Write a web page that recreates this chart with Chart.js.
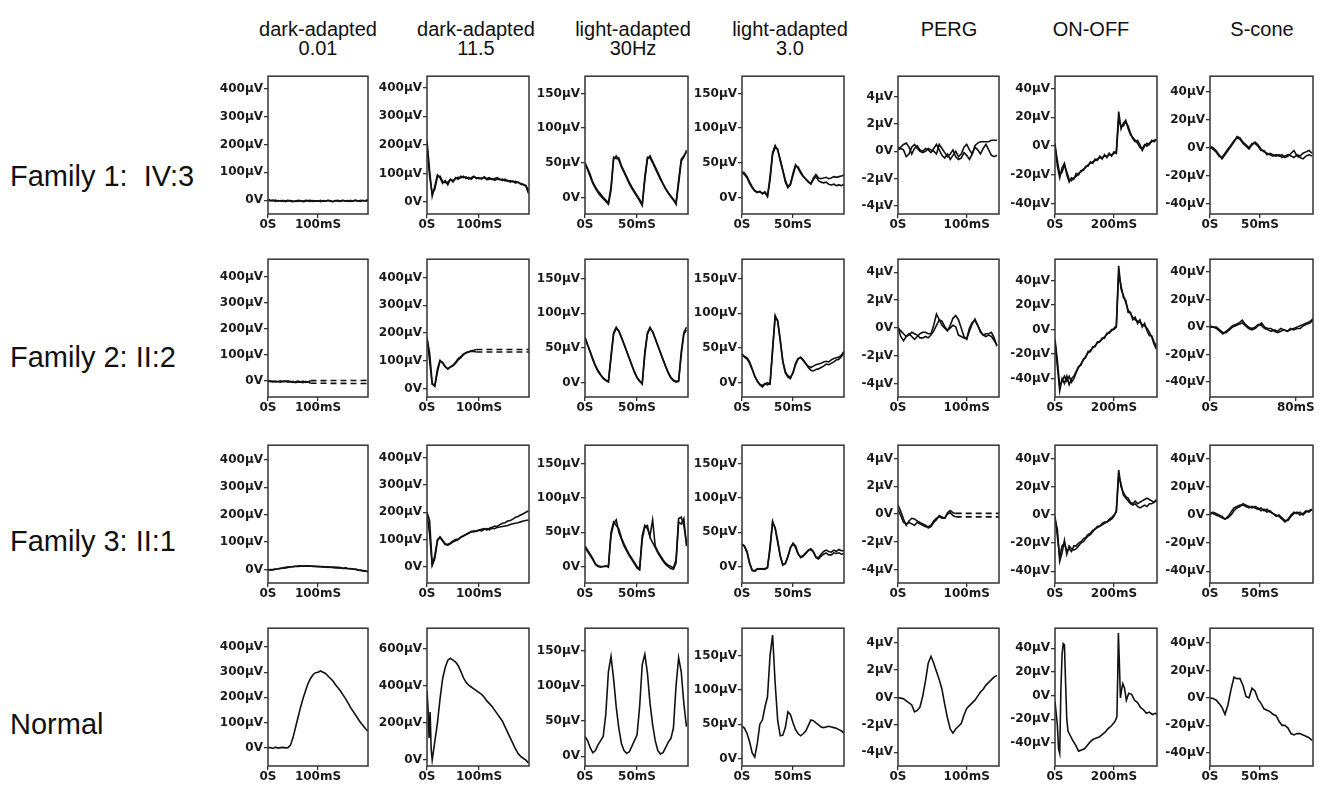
<!DOCTYPE html>
<html>
<head>
<meta charset="utf-8">
<script src="https://cdn.jsdelivr.net/npm/chart.js@4"></script>
<style>
  body { margin: 0; background: #fff; width: 1319px; height: 787px; position: relative; overflow: hidden;
         font-family: "Liberation Sans", Arial, sans-serif; color: #111; }
  .hdr { position: absolute; width: 170px; text-align: center; font-size: 20px; line-height: 19px; }
  .rowlbl { position: absolute; left: 10px; font-size: 29px; line-height: 30px; white-space: pre; }
  canvas { position: absolute; }
</style>
</head>
<body>
<div class="hdr" style="left:233px;top:20px">dark-adapted<br>0.01</div>
<div class="hdr" style="left:391px;top:20px">dark-adapted<br>11.5</div>
<div class="hdr" style="left:548px;top:20px">light-adapted<br>30Hz</div>
<div class="hdr" style="left:705px;top:20px">light-adapted<br>3.0</div>
<div class="hdr" style="left:864px;top:20px">PERG</div>
<div class="hdr" style="left:1006px;top:20px">ON-OFF</div>
<div class="hdr" style="left:1177px;top:20px">S-cone</div>
<div class="rowlbl" style="top:161px">Family 1:  IV:3</div>
<div class="rowlbl" style="top:342px">Family 2: II:2</div>
<div class="rowlbl" style="top:526px">Family 3: II:1</div>
<div class="rowlbl" style="top:709px">Normal</div>
<script>
// ---- sample times (ms) ----
const t_da = [0,5,10,15,20,25,30,35,40,45,50,55,60,65,70,75,80,85,90,95,100,105,110,115,120,125,130,135,140,145,150,155,160,165,170,175,180,185,190,195,200];
const t_da2 = [0,5,10,15,20,25,30,35,40,45,50,55,60,65,70,75,80,85,90,95,100,105,110,115,120,125,130,135,140,145,150,155,160,165,170,175,180,185,190,195];
const t_flk = [0,2.5,5,7.5,10,12.5,15,17.5,20,22.5,25,27.5,30,32.5,35,37.5,40,42.5,45,47.5,50,52.5,55,57.5,60,62.5,65,67.5,70,72.5,75,77.5,80,82.5,85,87.5,90,92.5,95,97.5];
const t_la = [0,2.5,5,7.5,10,12.5,15,17.5,20,22.5,25,27.5,30,32.5,35,37.5,40,42.5,45,47.5,50,52.5,55,57.5,60,62.5,65,67.5,70,72.5,75,77.5,80,82.5,85,87.5,90,92.5,95,97.5,100];
const t_perg = [0,4,8,12,16,20,24,28,32,36,40,44,48,52,56,60,64,68,72,76,80,84,88,92,96,100,104,108,112,116,120,124,128,132,136,140,144];
const t_oo = [0,8,16,24,32,40,48,56,64,72,80,88,96,104,112,120,128,136,144,152,160,168,176,184,192,200,208,216,224,232,240,248,256,264,272,280,288,296,304,312,320,328,336,344];
const t_sc = [0,3,6,9,12,15,18,21,24,27,30,33,36,39,42,45,48,51,54,57,60,63,66,69,72,75,78,81,84,87,90,93,96,99,102];
const t_sc2 = [0,3,6,9,12,15,18,21,24,27,30,33,36,39,42,45,48,51,54,57,60,63,66,69,72,75,78,81,84,87,90,93,96];
const t_r2_da001 = [0,5,10,15,20,25,30,35,40,45,50,55,60,65,70,75,80,85,200];
const t_r2_da115 = [0,5,10,15,20,25,30,35,40,45,50,55,60,65,70,75,80,85,90,95,196];
const t_r3_perg = [0,4,8,12,16,20,24,28,32,36,40,44,48,52,56,60,64,68,72,76,80,84,147];
const t_r4_da115 = [0,2,4,6,8,10,12,15,20,25,30,35,40,45,50,55,60,65,70,75,80,85,90,95,100,105,110,115,120,125,130,135,140,145,150,155,160,165,170,175,180,185,190,195];
const t_r4_oo = [0,4,8,12,16,20,24,28,32,36,40,44,52,60,70,80,90,100,110,120,130,140,150,160,170,180,190,200,205,210,213,215,218,222,226,230,236,242,250,260,270,280,290,300,310,320,330,340,346];

// ---- tick values ----
const yt_da = [0,100,200,300,400];
const yt_da_n = [0,200,400,600];
const yt_la = [0,50,100,150];
const yt_perg = [-4,-2,0,2,4];
const yt_oo = [-40,-20,0,20,40];
const xt_100 = [0,100];
const xt_50 = [0,50];
const xt_200 = [0,200];
const xt_80 = [0,80];

// ---- Family 1: IV:3 ----
const r1_da001_a = [3,0,-2,1,-3,-1,-4,-2,0,-3,-5,-2,-4,-1,-3,0,-2,-4,-1,-3,-2,-5,-1,-3,0,-2,-4,-1,-3,-2,0,-3,-1,-4,-2,1,-3,0,-2,-1,2];
const r1_da001_b = [0,-2,1,-4,-1,-3,0,-5,-2,-1,-3,-4,0,-2,-5,-3,-1,0,-4,-2,-3,0,-4,-2,-1,-3,-5,-2,0,-4,-1,-2,-4,0,-3,-1,-2,-4,0,-3,-1];
const r1_da115_a = [215,110,20,55,95,85,65,75,60,80,70,85,80,90,85,88,80,85,90,82,85,80,88,82,85,78,82,85,80,75,80,72,75,70,72,68,65,62,55,30];
const r1_da115_b = [195,90,30,45,88,90,72,68,70,78,75,82,86,84,90,82,86,80,88,85,82,84,85,78,80,82,76,80,78,80,74,76,70,74,66,70,62,60,58,40];
const r1_la30_a = [50,42,33,22,15,9,5,0,-4,-8,15,58,56,57,46,38,30,22,15,9,3,-3,-10,30,58,57,50,42,34,26,19,12,6,1,-4,-8,25,55,60,65];
const r1_la30_b = [48,40,30,20,13,7,2,-2,-6,-10,10,55,60,54,44,36,28,20,13,7,1,-5,-12,25,55,60,52,44,36,28,20,13,7,2,-3,-10,20,52,58,68];
const r1_la3_a = [37,35,30,22,15,10,8,8,6,8,2,30,65,75,68,55,40,25,15,20,35,47,42,35,30,27,22,20,28,33,28,27,28,29,27,28,30,29,30,31,32];
const r1_la3_b = [36,33,28,20,14,9,7,9,5,7,1,25,62,72,70,52,38,22,14,18,32,45,44,37,31,26,23,19,26,30,24,22,21,22,19,18,19,17,18,17,19];
const r1_perg_a = [0.2,0.3,0.5,0.6,0.3,-0.2,0.2,0.4,0.1,0,0.2,0.1,-0.1,0.2,0.5,0.1,-0.3,-0.5,-0.2,-0.6,-0.3,0,-0.4,-0.2,0.3,0.5,0.1,-0.2,0.4,0.6,0.7,0.7,0.7,0.7,0.8,0.8,0.8];
const r1_perg_b = [0.1,0.2,0.1,-0.4,-0.2,0.3,0.5,0.2,0,-0.1,0,0.2,0.1,0,-0.2,0.5,0.2,-0.1,-0.4,-0.2,0.1,-0.4,-0.6,-0.5,-0.1,-0.3,-0.6,-0.2,0.3,0.1,-0.2,0.2,0.5,0.1,-0.3,-0.4,-0.3];
const r1_oo_a = [0,-10,-20,-18,-13,-18,-23,-24,-22,-21,-19,-18,-16,-15,-13,-12,-11,-10,-9,-8,-8,-7,-7,-6,-6,-5,-4,24,12,16,18,12,8,6,4,2,-1,-2,1,0,2,3,4,4];
const r1_oo_b = [2,-14,-22,-15,-12,-20,-25,-22,-23,-19,-20,-17,-17,-14,-14,-11,-12,-9,-10,-7,-9,-6,-8,-5,-7,-4,-5,18,14,14,17,14,9,5,3,4,1,-3,0,2,1,4,3,5];
const r1_sc_a = [0,-1,-3,-6,-7,-4,-1,2,5,7,6,3,1,-1,2,4,2,-1,-3,-4,-5,-6,-5,-6,-5,-7,-6,-4,-2,-6,-7,-8,-6,-5,-6];
const r1_sc_b = [1,0,-2,-5,-8,-5,-2,1,4,8,7,4,2,0,3,3,1,-2,-2,-5,-4,-5,-6,-5,-7,-6,-5,-6,-7,-5,-6,-4,-3,-2,-4];

// ---- Family 2: II:2 ----
const r2_da001_a = [-2,-5,-3,-6,-4,-2,-5,-3,-7,-4,-8,-5,-3,-6,-9,-4,-7,-1,0];
const r2_da001_b = [-4,-2,-6,-3,-5,-7,-3,-4,-2,-6,-4,-9,-6,-7,-3,-8,-5,-11,-12];
const r2_da115_a = [180,130,20,8,60,99,95,80,70,78,82,92,104,112,122,130,133,136,138,141,141];
const r2_da115_b = [185,100,15,12,70,102,92,78,72,78,85,95,108,115,125,128,132,135,134,132,132];
const r2_la30_a = [66,55,45,35,25,18,12,7,4,2,40,72,80,74,65,55,45,35,25,15,7,2,-1,45,72,80,73,63,53,43,33,23,14,7,3,1,2,45,72,80];
const r2_la30_b = [64,54,44,33,24,16,11,6,3,1,35,70,78,75,66,56,46,36,26,16,8,3,-2,40,70,78,74,64,54,44,34,24,15,8,4,2,3,40,70,76];
const r2_la3_a = [40,38,36,30,20,10,2,-3,-6,-2,0,-2,50,97,88,60,30,14,8,6,15,28,35,36,32,27,24,22,24,26,27,28,30,31,30,33,35,36,37,40,45];
const r2_la3_b = [42,37,34,28,19,9,3,-2,-4,-1,-3,-1,45,95,90,62,32,16,10,8,14,26,34,37,33,28,22,18,17,19,20,22,24,27,26,28,30,33,34,38,43];
const r2_perg_a = [0.1,-0.6,-0.9,-0.6,-0.4,-0.6,-0.8,-0.6,-0.4,-0.3,-0.3,-0.4,-0.4,0.2,1.0,0.6,0.2,0,-0.2,0.2,0.7,0.9,0.6,0,-0.6,-0.8,-0.2,0.3,0.65,0.2,-0.3,-0.5,-0.4,-0.4,-0.3,-0.7,-1.3];
const r2_perg_b = [0,-0.2,-0.4,-0.6,-0.5,-0.3,-0.4,-0.5,-0.7,-0.7,-0.6,-0.7,-0.5,-0.2,0.2,0.6,0.5,0.1,-0.15,0,0.2,0.1,-0.5,-0.6,-0.7,-0.75,0,0.4,0.55,0.2,-0.2,-0.5,-0.6,-0.5,-0.6,-0.9,-1.2];
const r2_oo_a = [-8,-25,-46,-42,-38,-42,-38,-43,-40,-35,-31,-28,-25,-22,-19,-17,-15,-13,-11,-9.5,-8,-6,-4,-2,-1,1,3,52,33,28,22,16,13,10,8,7,6,4,3,1,-2,-6,-12,-16];
const r2_oo_b = [-10,-30,-50,-40,-44,-38,-45,-40,-38,-34,-30,-29,-24,-23,-18,-18,-14,-14,-10,-10,-7,-7,-3,-3,0,0,2,45,36,26,24,14,14,8,10,5,8,2,5,-1,-5,-5,-10,-14];
const r2_sc_a = [0,0,-1,-3,-5,-3,-1,1,2,3,5,2,0,-1,0,2,1,-1,-2,-3,-2,-3,-1,-2,-3,-2,-1,0,1,2,3,4,6];
const r2_sc_b = [1,0,0,-2,-4,-4,-2,0,1,2,3,1,-1,-2,-1,1,3,0,-1,-1,-3,-4,-3,-2,-3,-1,-2,-1,-1,1,2,3,5];

// ---- Family 3: II:1 ----
const r3_da001_a = [0,-2,0,2,3,5,6,8,9,10,11,12,13,14,13,12,14,12,13,11,12,10,11,9,10,8,9,7,8,6,5,6,4,3,2,0,-2,-3,-4,-6,-7];
const r3_da001_b = [-2,0,-1,1,2,4,5,6,8,9,10,11,11,12,12,14,12,13,11,12,10,11,9,10,8,9,7,8,6,7,4,5,3,4,1,2,-1,-2,-5,-5,-8];
const r3_da115_a = [200,170,10,40,100,108,95,82,80,85,92,96,100,108,115,118,125,128,132,130,135,138,140,135,142,145,150,148,155,160,162,168,170,175,182,185,190,195,200,205];
const r3_da115_b = [195,120,5,30,95,110,98,85,82,88,95,100,102,110,112,120,122,130,128,132,134,132,138,140,136,142,140,145,146,148,150,152,155,158,160,162,165,168,170,172];
const r3_la30_a = [30,24,18,12,4,1,0,0,0,1,50,65,60,55,42,33,25,18,12,6,0,-3,45,60,55,45,68,30,22,16,10,5,2,0,-2,10,70,72,60,35];
const r3_la30_b = [28,22,16,10,3,0,-1,0,1,-1,45,62,68,50,40,30,23,16,10,4,-2,-5,40,58,60,42,35,28,20,14,8,3,0,-3,-4,5,65,62,70,30];
const r3_la3_a = [33,30,22,5,-5,-6,-4,-3,-4,-3,-2,30,66,55,35,15,2,5,15,28,33,28,18,14,16,20,24,26,22,14,13,18,22,24,22,21,24,22,25,23,23];
const r3_la3_b = [32,29,20,4,-6,-7,-3,-4,-3,-4,-1,25,64,57,38,16,3,4,14,27,34,30,19,13,15,19,23,25,21,13,11,15,18,20,17,17,20,19,20,18,19];
const r3_perg_a = [0.65,0.2,-0.35,-0.8,-0.5,-0.3,-0.35,-0.5,-0.6,-0.7,-0.8,-1.0,-0.9,-0.6,-0.4,-0.1,-0.2,-0.3,0.1,0.25,0.1,0.05,0.05];
const r3_perg_b = [0.3,-0.1,-0.6,-0.7,-0.6,-0.7,-0.8,-0.6,-0.7,-0.8,-0.9,-0.9,-0.8,-0.5,-0.3,-0.2,-0.3,-0.3,0,0.1,-0.1,-0.2,-0.2];
const r3_oo_a = [-3,-10,-33,-27,-18,-28,-22,-24,-25,-24,-22,-20,-19,-17,-15,-14,-12,-10,-9,-8,-7,-6,-5,-4,-3,-1,3,32,20,16,13,12,9,8,10,8,9,10,11,12,11,10,9,11];
const r3_oo_b = [-1,-15,-30,-22,-20,-26,-24,-26,-22,-22,-20,-19,-17,-16,-14,-13,-11,-10,-8,-8,-6,-5,-5,-3,-2,0,2,28,22,14,12,10,8,7,8,6,5,6,7,6,8,8,9,10];
const r3_sc_a = [2,1,0,-1,-2,-3,-1,2,5,6,7,7,6,5,6,5,4,5,3,4,2,1,0,-1,-3,-5,-3,0,2,1,2,0,2,3,4];
const r3_sc_b = [0,2,1,0,-1,-3,-2,0,3,5,6,8,7,6,5,6,5,3,4,2,3,1,-1,0,-2,-4,-4,-1,1,2,0,1,3,2,4];

// ---- Normal ----
const r4_da001 = [0,0,-3,2,-2,0,1,-1,0,10,40,80,120,160,195,225,255,275,290,298,300,305,300,295,285,275,265,250,238,225,210,195,178,160,145,130,115,100,88,75,65];
const r4_da115 = [375,280,120,260,60,0,40,100,200,330,440,500,540,550,540,530,510,480,445,420,405,395,385,375,365,355,340,320,305,290,270,250,230,210,180,150,120,90,60,35,20,10,0,-15];
const r4_la30 = [28,22,12,5,8,16,22,28,60,120,142,110,70,40,18,8,4,6,14,22,30,70,130,145,118,75,45,22,8,3,5,12,20,25,40,100,140,120,75,42];
const r4_la3 = [47,44,36,24,8,2,22,50,56,75,90,150,180,110,55,33,34,45,68,64,52,42,36,33,36,40,48,56,55,52,49,46,45,46,47,46,45,44,42,40,37];
const r4_perg = [0,-0.05,-0.1,-0.25,-0.4,-0.55,-1.05,-0.95,-0.7,0.1,1.2,2.5,3.0,2.5,1.9,1.3,0.6,-0.5,-1.5,-2.3,-2.6,-2.3,-2.1,-1.9,-1.3,-0.8,-0.6,-0.4,-0.2,0.1,0.4,0.6,0.9,1.1,1.3,1.5,1.6];
const r4_oo = [-5,-15,-25,-45,-49,5,35,44,43,10,-20,-30,-34,-38,-42,-47,-46,-45,-42,-39,-37,-36,-35,-33,-31,-28,-26,-23,-21,-18,20,53,30,-2,5,10,6,-4,2,1,-4,-6,-10,-12,-15,-14,-16,-15,-16];
const r4_sc = [0,-0.5,-1.5,-4,-7,-12,-5,6,15,14,14,9,1,0,7,5,-1,-4,-8,-9,-10,-12,-13,-17,-20,-20,-22,-26,-27,-26,-26,-27,-28,-29,-31];

// ---- panel table: [row, col, ymin, ymax, yTicks, xmax, xTicks, traces] ----
const panels = [
  [0,0,-49,444,yt_da,200,xt_100,[[t_da,r1_da001_a],[t_da,r1_da001_b]]],
  [0,1,-42,440,yt_da,196,xt_100,[[t_da2,r1_da115_a],[t_da2,r1_da115_b]]],
  [0,2,-24,175,yt_la,99,xt_50,[[t_flk,r1_la30_a],[t_flk,r1_la30_b]]],
  [0,3,-24,175,yt_la,100,xt_50,[[t_la,r1_la3_a],[t_la,r1_la3_b]]],
  [0,4,-4.6,5.5,yt_perg,147,xt_100,[[t_perg,r1_perg_a],[t_perg,r1_perg_b]]],
  [0,5,-47.2,48.6,yt_oo,346,xt_200,[[t_oo,r1_oo_a],[t_oo,r1_oo_b]]],
  [0,6,-47.4,51.1,yt_oo,103,xt_50,[[t_sc,r1_sc_a],[t_sc,r1_sc_b]]],

  [1,0,-64,467,yt_da,200,xt_100,[[t_r2_da001,r2_da001_a,85],[t_r2_da001,r2_da001_b,85]]],
  [1,1,-30,466,yt_da,196,xt_100,[[t_r2_da115,r2_da115_a,95],[t_r2_da115,r2_da115_b,95]]],
  [1,2,-20.5,178,yt_la,99,xt_50,[[t_flk,r2_la30_a],[t_flk,r2_la30_b]]],
  [1,3,-20.5,178,yt_la,100,xt_50,[[t_la,r2_la3_a],[t_la,r2_la3_b]]],
  [1,4,-4.93,4.93,yt_perg,147,xt_100,[[t_perg,r2_perg_a],[t_perg,r2_perg_b]]],
  [1,5,-55,57.4,yt_oo,346,xt_200,[[t_oo,r2_oo_a],[t_oo,r2_oo_b]]],
  [1,6,-50.8,49.4,yt_oo,96,xt_80,[[t_sc2,r2_sc_a],[t_sc2,r2_sc_b]]],

  [2,0,-49,453,yt_da,200,xt_100,[[t_da,r3_da001_a],[t_da,r3_da001_b]]],
  [2,1,-59,446,yt_da,196,xt_100,[[t_da2,r3_da115_a],[t_da2,r3_da115_b]]],
  [2,2,-24,177,yt_la,99,xt_50,[[t_flk,r3_la30_a],[t_flk,r3_la30_b]]],
  [2,3,-24,177,yt_la,100,xt_50,[[t_la,r3_la3_a],[t_la,r3_la3_b]]],
  [2,4,-4.95,4.95,yt_perg,147,xt_100,[[t_r3_perg,r3_perg_a,84],[t_r3_perg,r3_perg_b,84]]],
  [2,5,-48.4,49.6,yt_oo,346,xt_200,[[t_oo,r3_oo_a],[t_oo,r3_oo_b]]],
  [2,6,-48.4,49.6,yt_oo,103,xt_50,[[t_sc,r3_sc_a],[t_sc,r3_sc_b]]],

  [3,0,-73,475,yt_da,200,xt_100,[[t_da,r4_da001]]],
  [3,1,-32,713,yt_da_n,196,xt_100,[[t_r4_da115,r4_da115]]],
  [3,2,-14,182,yt_la,99,xt_50,[[t_flk,r4_la30]]],
  [3,3,-11,190,yt_la,100,xt_50,[[t_la,r4_la3]]],
  [3,4,-5,5.05,yt_perg,147,xt_100,[[t_perg,r4_perg]]],
  [3,5,-59.6,57,yt_oo,346,xt_200,[[t_r4_oo,r4_oo]]],
  [3,6,-49.6,50.7,yt_oo,103,xt_50,[[t_sc,r4_sc]]]
];

// ---- layout ----
const colLeft = [268, 427, 585, 742, 898, 1055, 1210];
const colWidth = [100, 102, 103, 102, 101, 102, 103];
const rowTop = [72, 255, 441, 624];
const boxH = 142;
const AXW = 62, AXH = 20, PADT = 4, PADR = 10;

Chart.defaults.font.family = '"DejaVu Sans", Arial, sans-serif';
Chart.defaults.color = '#1a1a1a';

// box round the plot area
const frame = {
  id: 'frame',
  afterDatasetsDraw(chart) {
    const a = chart.chartArea, ctx = chart.ctx;
    ctx.save();
    ctx.strokeStyle = '#333';
    ctx.lineWidth = 1.5;
    ctx.strokeRect(a.left, a.top, a.right - a.left, a.bottom - a.top);
    ctx.restore();
  }
};

const tickFont = { size: 12, weight: 'bold' };

panels.forEach(([r, c, ymin, ymax, yt, xmax, xt, traces]) => {
  const cv = document.createElement('canvas');
  const w = AXW + colWidth[c] + PADR, h = PADT + boxH + AXH;
  cv.width = w; cv.height = h;
  cv.style.left = (colLeft[c] - AXW) + 'px';
  cv.style.top = (rowTop[r] - PADT) + 'px';
  document.body.appendChild(cv);

  new Chart(cv, {
    type: 'line',
    data: {
      datasets: traces.map(([t, y, dashFrom]) => ({
        data: y.map((v, i) => ({ x: t[i], y: v })),
        borderColor: '#111',
        borderWidth: 1.6,
        pointRadius: 0,
        tension: 0,
        fill: false,
        segment: {
          borderDash: ctx => (dashFrom !== undefined && ctx.p0.parsed.x >= dashFrom) ? [6, 4] : undefined
        }
      }))
    },
    options: {
      responsive: false,
      animation: false,
      events: [],
      layout: { padding: { top: PADT, right: PADR, bottom: 0, left: 0 } },
      plugins: { legend: { display: false }, tooltip: { enabled: false } },
      scales: {
        x: {
          type: 'linear', min: 0, max: xmax,
          afterBuildTicks: s => { s.ticks = xt.map(v => ({ value: v })); },
          afterFit: s => { s.height = AXH; },
          border: { display: false },
          grid: { drawOnChartArea: false, drawTicks: true, tickLength: 4, color: '#333', lineWidth: 1.3 },
          ticks: { font: tickFont, padding: 0, maxRotation: 0, autoSkip: false,
                   callback: v => v === 0 ? '0S' : v + 'mS' }
        },
        y: {
          min: ymin, max: ymax,
          afterBuildTicks: s => { s.ticks = yt.map(v => ({ value: v })); },
          afterFit: s => { s.width = AXW; },
          border: { display: false },
          grid: { drawOnChartArea: false, drawTicks: true, tickLength: 4, color: '#333', lineWidth: 1.3 },
          ticks: { font: tickFont, padding: 1, autoSkip: false,
                   callback: v => v === 0 ? '0V' : v + 'µV' }
        }
      }
    },
    plugins: [frame]
  });
});
</script>
</body>
</html>
